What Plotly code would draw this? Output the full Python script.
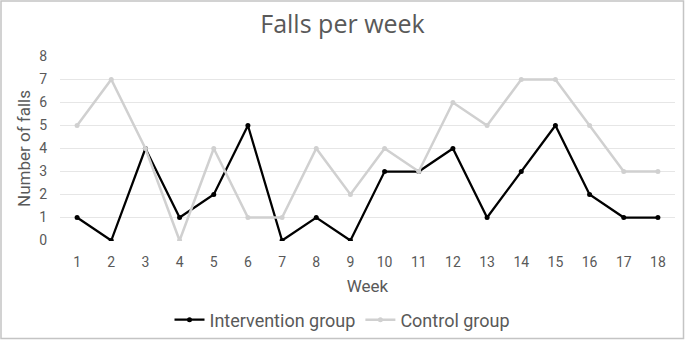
import plotly.graph_objects as go

weeks = [str(i) for i in range(1, 19)]
intervention = [1, 0, 4, 1, 2, 5, 0, 1, 0, 3, 3, 4, 1, 3, 5, 2, 1, 1]
control = [5, 7, 4, 0, 4, 1, 1, 4, 2, 4, 3, 6, 5, 7, 7, 5, 3, 3]

L, R, T, B = 60, 10, 56, 99
W, H = 685, 340
pw, ph = W - L - R, H - T - B

fig = go.Figure()
fig.add_trace(go.Scatter(x=weeks, y=intervention, name="Intervention group",
                         mode="lines+markers", line=dict(color="#000000", width=2.25),
                         marker=dict(size=5, color="#000000")))
fig.add_trace(go.Scatter(x=weeks, y=control, name="Control group",
                         mode="lines+markers", line=dict(color="#d0d0d0", width=2.5),
                         marker=dict(size=5, color="#d0d0d0")))

font = "Roboto, Open Sans, sans-serif"
fig.update_layout(
    width=W, height=H,
    margin=dict(l=L, r=R, t=T, b=B, autoexpand=False),
    paper_bgcolor="white", plot_bgcolor="white",
    font=dict(family=font, color="#595959"),
    title=dict(text="Falls per week", x=0.5, xanchor="center", y=1 - 24 / H, yanchor="middle",
               font=dict(family="Open Sans, sans-serif", size=25, color="#595959")),
    xaxis=dict(type="category", range=[-0.5, 17.5], showgrid=False, showline=False, ticks="",
               automargin=False,
               tickfont=dict(size=14, color="#595959"), ticklabelstandoff=11,
               title=dict(text="Week", font=dict(size=17, color="#595959"), standoff=11)),
    yaxis=dict(range=[-0.02, 8.02], tickvals=list(range(0, 9)), showgrid=True,
               gridcolor="#e6e6e6", gridwidth=1, automargin=False,
               zeroline=False, showline=False, ticks="", ticklabelstandoff=12,
               tickfont=dict(size=14, color="#595959"),
               title=dict(text="Number of falls", font=dict(size=17, color="#595959"), standoff=4)),
    legend=dict(orientation="h", xref="container", yref="container", x=0.5, xanchor="center",
                y=1 - 320 / H, yanchor="middle",
                font=dict(size=18, color="#595959"), itemwidth=30, bgcolor="rgba(0,0,0,0)"),
    showlegend=True,
)
fig.add_shape(type="rect", xref="paper", yref="paper",
              x0=(1 - L) / pw, x1=(W - 1.5 - L) / pw,
              y0=(T + ph - (H - 1.5)) / ph, y1=(T + ph - 1) / ph,
              line=dict(color="#c4c4c4", width=1.5), fillcolor="rgba(0,0,0,0)", layer="below")
fig.write_html("out.html", config={"displayModeBar": False},
               post_script="document.body.style.margin='0';")
